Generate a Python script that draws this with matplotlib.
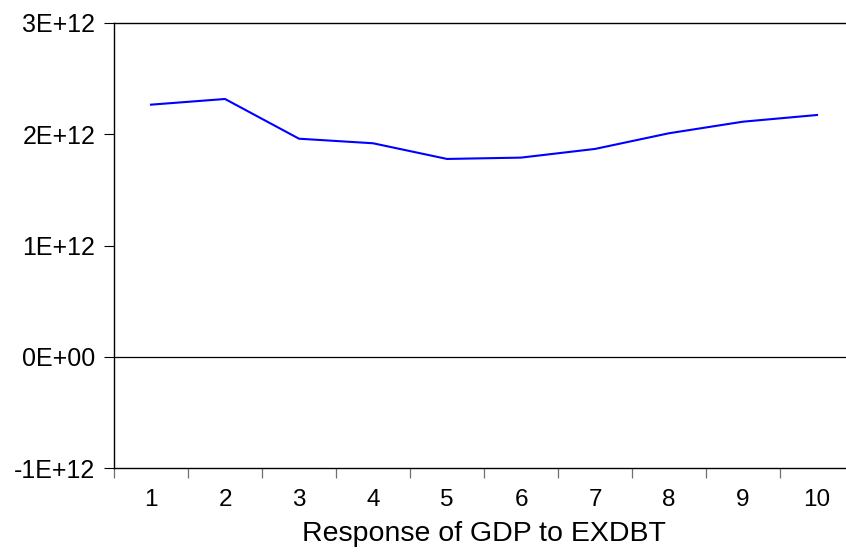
import matplotlib
matplotlib.use("Agg")
import matplotlib.pyplot as plt
from matplotlib.ticker import FixedLocator, NullFormatter

plt.rcParams['font.family'] = ['Liberation Sans', 'DejaVu Sans']

periods = [1, 2, 3, 4, 5, 6, 7, 8, 9, 10]
response = [2.266e12, 2.317e12, 1.960e12, 1.919e12, 1.778e12,
            1.790e12, 1.868e12, 2.009e12, 2.113e12, 2.173e12]
y_ticks = [-1e12, 0, 1e12, 2e12, 3e12]
y_tick_labels = ['-1E+12', '0E+00', '1E+12', '2E+12', '3E+12']
x_title = 'Response of GDP to EXDBT'

fig = plt.figure(figsize=(8.46, 5.52), dpi=100)
ax = fig.add_axes([114 / 846, 1 - 468 / 552, 740 / 846, 445 / 552])

ax.plot(periods, response, color='#0000ff', linewidth=1.5)
ax.axhline(0, color='black', linewidth=0.9)

ax.set_xlim(0.5, 10.5)
ax.set_ylim(-1e12, 3e12)

ax.set_yticks(y_ticks)
ax.set_yticklabels(y_tick_labels)
ax.tick_params(axis='y', direction='out', length=7.5, width=0.8,
               color='black', labelsize=18, pad=6)

ax.set_xticks(periods)
ax.set_xticklabels([str(p) for p in periods])
ax.xaxis.set_minor_locator(FixedLocator([p + 0.5 for p in [0] + periods]))
ax.xaxis.set_minor_formatter(NullFormatter())
ax.tick_params(axis='x', which='major', length=0, labelsize=17.5, pad=15)
ax.tick_params(axis='x', which='minor', direction='out', length=7.5,
               width=0.9, color='#707070')

for side in ('left', 'top', 'bottom'):
    ax.spines[side].set_color('black')
    ax.spines[side].set_linewidth(1.0)
ax.spines['right'].set_visible(False)

ax.set_xlabel(x_title, fontsize=20.5, labelpad=7)

fig.savefig('out.png', dpi=100)
